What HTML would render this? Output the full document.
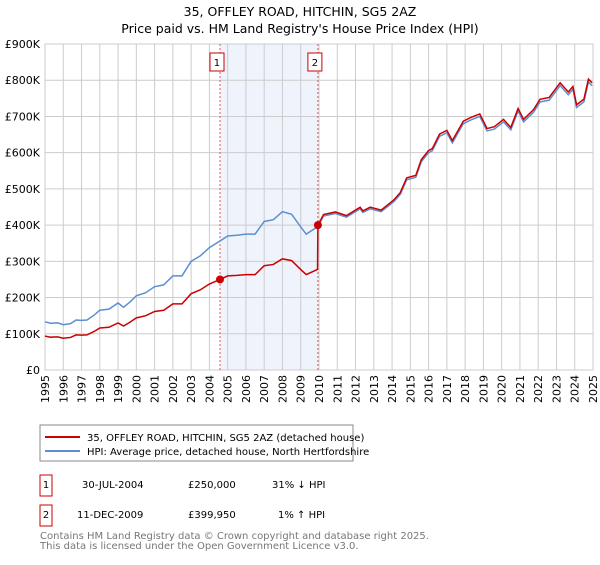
<!DOCTYPE html>
<html><head><meta charset="utf-8"><style>
body{margin:0;background:#fff;font-family:"Liberation Sans","DejaVu Sans",sans-serif}
svg text{font-family:"DejaVu Sans","Liberation Sans",sans-serif}
</style></head><body>
<svg id="c" width="600" height="560" xmlns="http://www.w3.org/2000/svg">
<text x="300" y="16" text-anchor="middle" font-size="12.5">35, OFFLEY ROAD, HITCHIN, SG5 2AZ</text>
<text x="300" y="33" text-anchor="middle" font-size="12.5">Price paid vs. HM Land Registry's House Price Index (HPI)</text>
<g id="plot"></g>
<rect x="40" y="425" width="313" height="36" fill="#fff" stroke="#888"/>
<line x1="45" y1="437" x2="80" y2="437" stroke="#cc0000" stroke-width="2"/>
<text x="87" y="441" font-size="10">35, OFFLEY ROAD, HITCHIN, SG5 2AZ (detached house)</text>
<line x1="45" y1="451" x2="80" y2="451" stroke="#5b8fd0" stroke-width="2"/>
<text x="87" y="455" font-size="10">HPI: Average price, detached house, North Hertfordshire</text>
<g font-size="10">
<rect x="40" y="475" width="12" height="21" fill="none" stroke="#cc0000"/>
<text x="46" y="488" text-anchor="middle">1</text>
<text x="82" y="488">30-JUL-2004</text><text x="188" y="488">£250,000</text><text x="272" y="488">31% ↓ HPI</text>
<rect x="40" y="505" width="12" height="21" fill="none" stroke="#cc0000"/>
<text x="46" y="518" text-anchor="middle">2</text>
<text x="77" y="518">11-DEC-2009</text><text x="188" y="518">£399,950</text><text x="278" y="518">1% ↑ HPI</text>
</g>
<text x="40" y="539" font-size="10" fill="#777">Contains HM Land Registry data © Crown copyright and database right 2025.</text>
<text x="40" y="549" font-size="10" fill="#777">This data is licensed under the Open Government Licence v3.0.</text>
</svg>
<script>
const hpiYears=[1995,1995.3,1995.7,1996,1996.4,1996.7,1997,1997.3,1997.7,1998,1998.5,1999,1999.3,1999.7,2000,2000.5,2001,2001.5,2002,2002.5,2003,2003.5,2004,2004.58,2005,2005.5,2006,2006.5,2007,2007.5,2008,2008.5,2009,2009.3,2009.94,2010.25,2010.9,2011.5,2012.25,2012.4,2012.8,2013.4,2013.8,2014.1,2014.45,2014.8,2015.3,2015.6,2016,2016.2,2016.6,2017,2017.3,2017.9,2018.3,2018.8,2019.2,2019.6,2020.1,2020.5,2020.9,2021.2,2021.75,2022.1,2022.6,2023.2,2023.65,2023.9,2024.1,2024.5,2024.75,2024.95];
const hpiValues=[133,129,130,125,128,138,137,138,152,165,168,185,173,190,205,213,230,235,260,260,300,315,338,356,370,372,375,375,410,415,437,430,395,375,396,425,432,422,445,435,445,437,453,465,485,525,532,575,600,605,645,655,627,680,690,700,660,665,685,663,715,685,712,740,745,785,760,775,725,740,795,785];
const sales=[[2004.58,250000],[2009.94,399950]];
const yTicks=[0,100,200,300,400,500,600,700,800,900];
const xYears=[];for(let y=1995;y<=2025;y++)xYears.push(y);

const NS="http://www.w3.org/2000/svg";
const X0=45,X1=593,Y0=370,Y1=44;
const xs=y=>X0+(y-1995)/30*(X1-X0);
const ys=v=>Y0-v/900*(Y0-Y1);
const g=document.getElementById('plot');
function el(t,a,p){const e=document.createElementNS(NS,t);for(const k in a)e.setAttribute(k,a[k]);(p||g).appendChild(e);return e;}
function hpiAt(y){for(let i=0;i<hpiYears.length-1;i++){if(y>=hpiYears[i]&&y<=hpiYears[i+1]){const t=(y-hpiYears[i])/(hpiYears[i+1]-hpiYears[i]);return hpiValues[i]+t*(hpiValues[i+1]-hpiValues[i]);}}return hpiValues[hpiValues.length-1];}

const shade=el('rect',{x:xs(sales[0][0]),y:Y1,width:xs(sales[1][0])-xs(sales[0][0]),height:Y0-Y1,fill:'#eef3fc'});


yTicks.forEach(v=>{
 const l=el('line',{x1:X0,x2:X1,y1:ys(v),y2:ys(v),stroke:'#ccc'});
 
 
 const t=el('text',{x:X0-5,y:ys(v)+4,'text-anchor':'end','font-size':'11'});
 t.textContent=v===0?'£0':'£'+v+'K';
 
 
});
xYears.forEach(y=>{
 const l=el('line',{x1:xs(y),x2:xs(y),y1:Y1,y2:Y0,stroke:'#ccc'});
 
 
 const t=el('text',{x:0,y:0,'text-anchor':'end','font-size':'11',transform:`translate(${xs(y)+4},${Y0+5}) rotate(-90)`});
 t.textContent=y;
 
 
});
el('rect',{x:X0,y:Y1,width:X1-X0,height:Y0-Y1,fill:'none',stroke:'#ccc'});
sales.forEach((s,i)=>{
 const x=xs(s[0]);
 const l=el('line',{x1:x,x2:x,y1:Y1,y2:Y0,stroke:'#e55','stroke-dasharray':'2,2'});
 
 
 const r=el('rect',{x:x-10,y:53,width:14,height:18,fill:'#fff',stroke:'#cc0000'});
 
 
 const t=el('text',{x:x-3,y:66,'text-anchor':'middle','font-size':'10'});
 t.textContent=String(i+1);
 
 
});
const hp=el('polyline',{points:hpiYears.map((y,i)=>xs(y)+','+ys(hpiValues[i])).join(' '),fill:'none',stroke:'#5b8fd0','stroke-width':'1.5'});


const r1=sales[0][1]/1000/hpiAt(sales[0][0]);
const r2=sales[1][1]/1000/hpiAt(sales[1][0]);
const pts=[];
hpiYears.forEach((y,i)=>{if(y<sales[1][0])pts.push([y,hpiValues[i]*r1]);});
pts.push([sales[1][0]-0.02,hpiAt(sales[1][0]-0.02)*r1]);
pts.push([sales[1][0],sales[1][1]/1000]);
hpiYears.forEach((y,i)=>{if(y>sales[1][0])pts.push([y,hpiValues[i]*r2]);});
const pl=el('polyline',{points:pts.map(p=>xs(p[0])+','+ys(p[1])).join(' '),fill:'none',stroke:'#cc0000','stroke-width':'1.5'});


sales.forEach(s=>{
 const c=el('circle',{cx:xs(s[0]),cy:ys(s[1]/1000),r:4,fill:'#cc0000'});
 
 
});
</script>
</body></html>
